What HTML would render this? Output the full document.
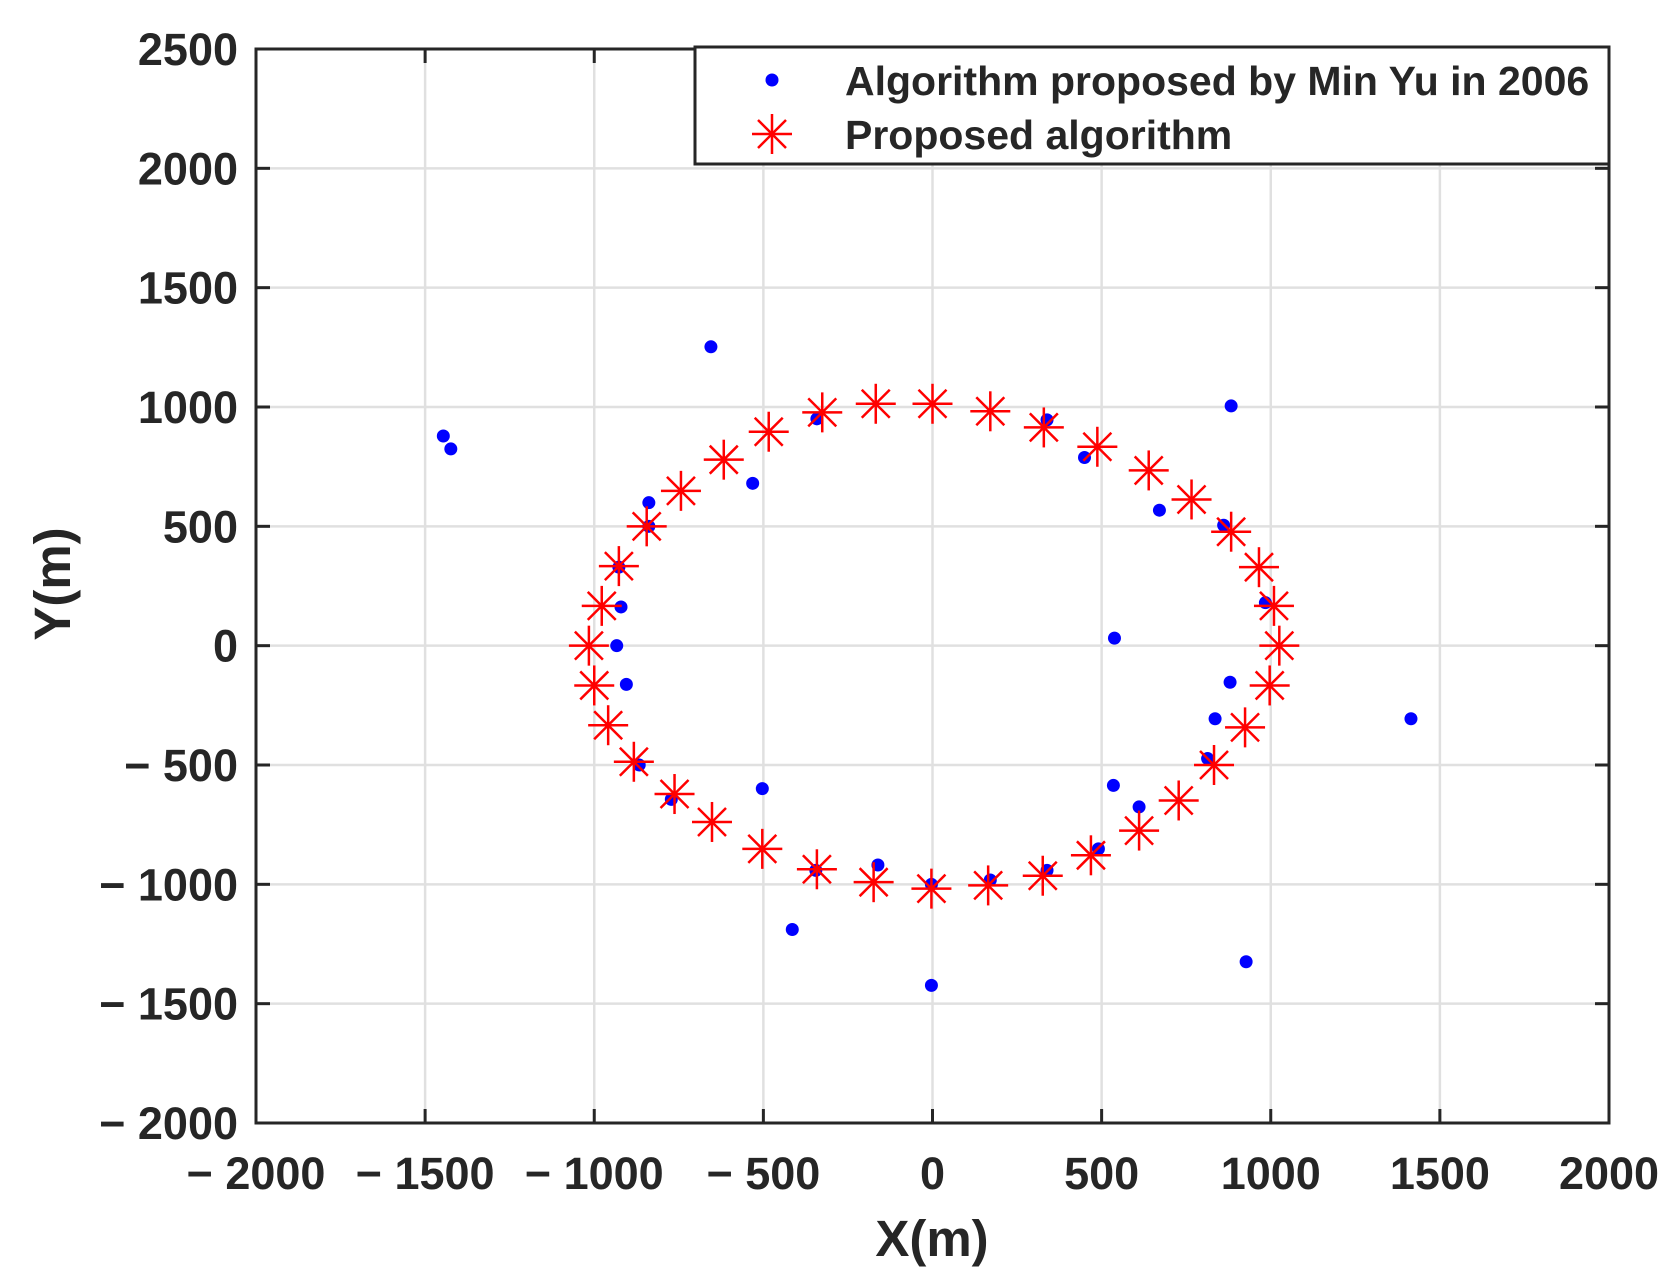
<!DOCTYPE html>
<html><head><meta charset="utf-8"><style>
html,body{margin:0;padding:0;background:#fff}
svg{display:block}
text{font-family:"Liberation Sans",Arial,sans-serif;font-weight:bold;fill:#262626}
</style></head><body>
<svg id="s" width="1680" height="1288" viewBox="0 0 1680 1288" xmlns="http://www.w3.org/2000/svg">
<g id="grid" stroke="#e0e0e0" stroke-width="2.5"></g>
<g id="ticks" stroke="#262626" stroke-width="3"></g>
<g id="dots" fill="#0000ff"></g>
<g id="stars" stroke="#ff0000" stroke-width="2.5"></g>
<rect x="256" y="49" width="1353" height="1074" fill="none" stroke="#262626" stroke-width="3"/>
<g id="labels" font-size="45"></g>
<text x="932" y="1256" font-size="51" text-anchor="middle">X(m)</text>
<text transform="translate(70,584) rotate(-90)" font-size="51" text-anchor="middle">Y(m)</text>
<rect x="695" y="47" width="914" height="117" fill="#fff" stroke="#262626" stroke-width="3"/>
<circle cx="772" cy="80" r="6.5" fill="#0000ff"/>
<g stroke="#ff0000" stroke-width="2.5">
<line x1="752" y1="134" x2="792" y2="134"/><line x1="772" y1="114" x2="772" y2="154"/>
<line x1="758" y1="120" x2="786" y2="148"/><line x1="758" y1="148" x2="786" y2="120"/>
</g>
<text x="845" y="95" font-size="41">Algorithm proposed by Min Yu in 2006</text>
<text x="845" y="149" font-size="41">Proposed algorithm</text>
</svg>
<script>
var NS="http://www.w3.org/2000/svg";
function X(x){return 256+(x+2000)*1353/4000}
function Y(y){return 49+(2500-y)*1074/4500}
function el(p,t,a){var e=document.createElementNS(NS,t);for(var k in a)e.setAttribute(k,a[k]);if(t=="text"&&a.txt){e.textContent=a.txt;e.removeAttribute("txt")}document.getElementById(p).appendChild(e);return e}
for(var v=-1500;v<=1500;v+=500){el("grid","line",{x1:X(v),y1:49,x2:X(v),y2:1123});}
for(var v=-1500;v<=2000;v+=500){el("grid","line",{x1:256,y1:Y(v),x2:1609,y2:Y(v)});}
for(var v=-2000;v<=2000;v+=500){var x=X(v);el("ticks","line",{x1:x,y1:1123,x2:x,y2:1109});el("ticks","line",{x1:x,y1:49,x2:x,y2:63});
 el("labels","text",{x:x,y:1189,"text-anchor":"middle",txt:(v<0?"\u2212 "+(-v):""+v)});}
for(var v=-2000;v<=2500;v+=500){var y=Y(v);el("ticks","line",{x1:256,y1:y,x2:270,y2:y});el("ticks","line",{x1:1609,y1:y,x2:1595,y2:y});
 el("labels","text",{x:238,y:y+16,"text-anchor":"end",txt:(v<0?"\u2212 "+(-v):""+v)});}
function dx(xd){return (xd-871)/158*500} function dy(yd){return (603-yd)/111*500}
var dots=[[414,408],[421,420],[664,325],[763,392],[703,452],[606,470],[606,492],[578,530],[580,567],[576,603],[585,639],[597,714],[712,736],[627,746],[762,812],[820,807],[740,867],[870,825],[870,919],[925,821],[978,812],[1026,792],[1040,733],[1064,753],[1128,708],[1135,671],[1149,637],[1164,897],[1318,671],[1182,563],[1041,596],[1083,477],[1143,491],[1013,428],[978,393],[1150,380]];
dots.forEach(function(p){el("dots","circle",{cx:X(dx(p[0])),cy:Y(dy(p[1])),r:6.5});});
var st=[[871,378],[925,385],[975,400],[1025,418],[1073,440],[1113,467],[1150,497],[1176,530],[1190,566],[1195,603],[1186,640],[1163,679],[1134,714],[1101,747],[1064,775],[1019,798],[974,817],[923,826],[870,829],[816,823],[763,811],[712,792],[665,767],[630,741],[592,711],[568,677],[555,640],[550,603],[562,566],[578,529],[604,492],[636,459],[676,430],[718,404],[768,386],[818,378]];
st.forEach(function(p){var x=X(dx(p[0])),y=Y(dy(p[1])),r=20,d=14;
 el("stars","line",{x1:x-r,y1:y,x2:x+r,y2:y});el("stars","line",{x1:x,y1:y-r,x2:x,y2:y+r});
 el("stars","line",{x1:x-d,y1:y-d,x2:x+d,y2:y+d});el("stars","line",{x1:x-d,y1:y+d,x2:x+d,y2:y-d});});
</script>
</body></html>
